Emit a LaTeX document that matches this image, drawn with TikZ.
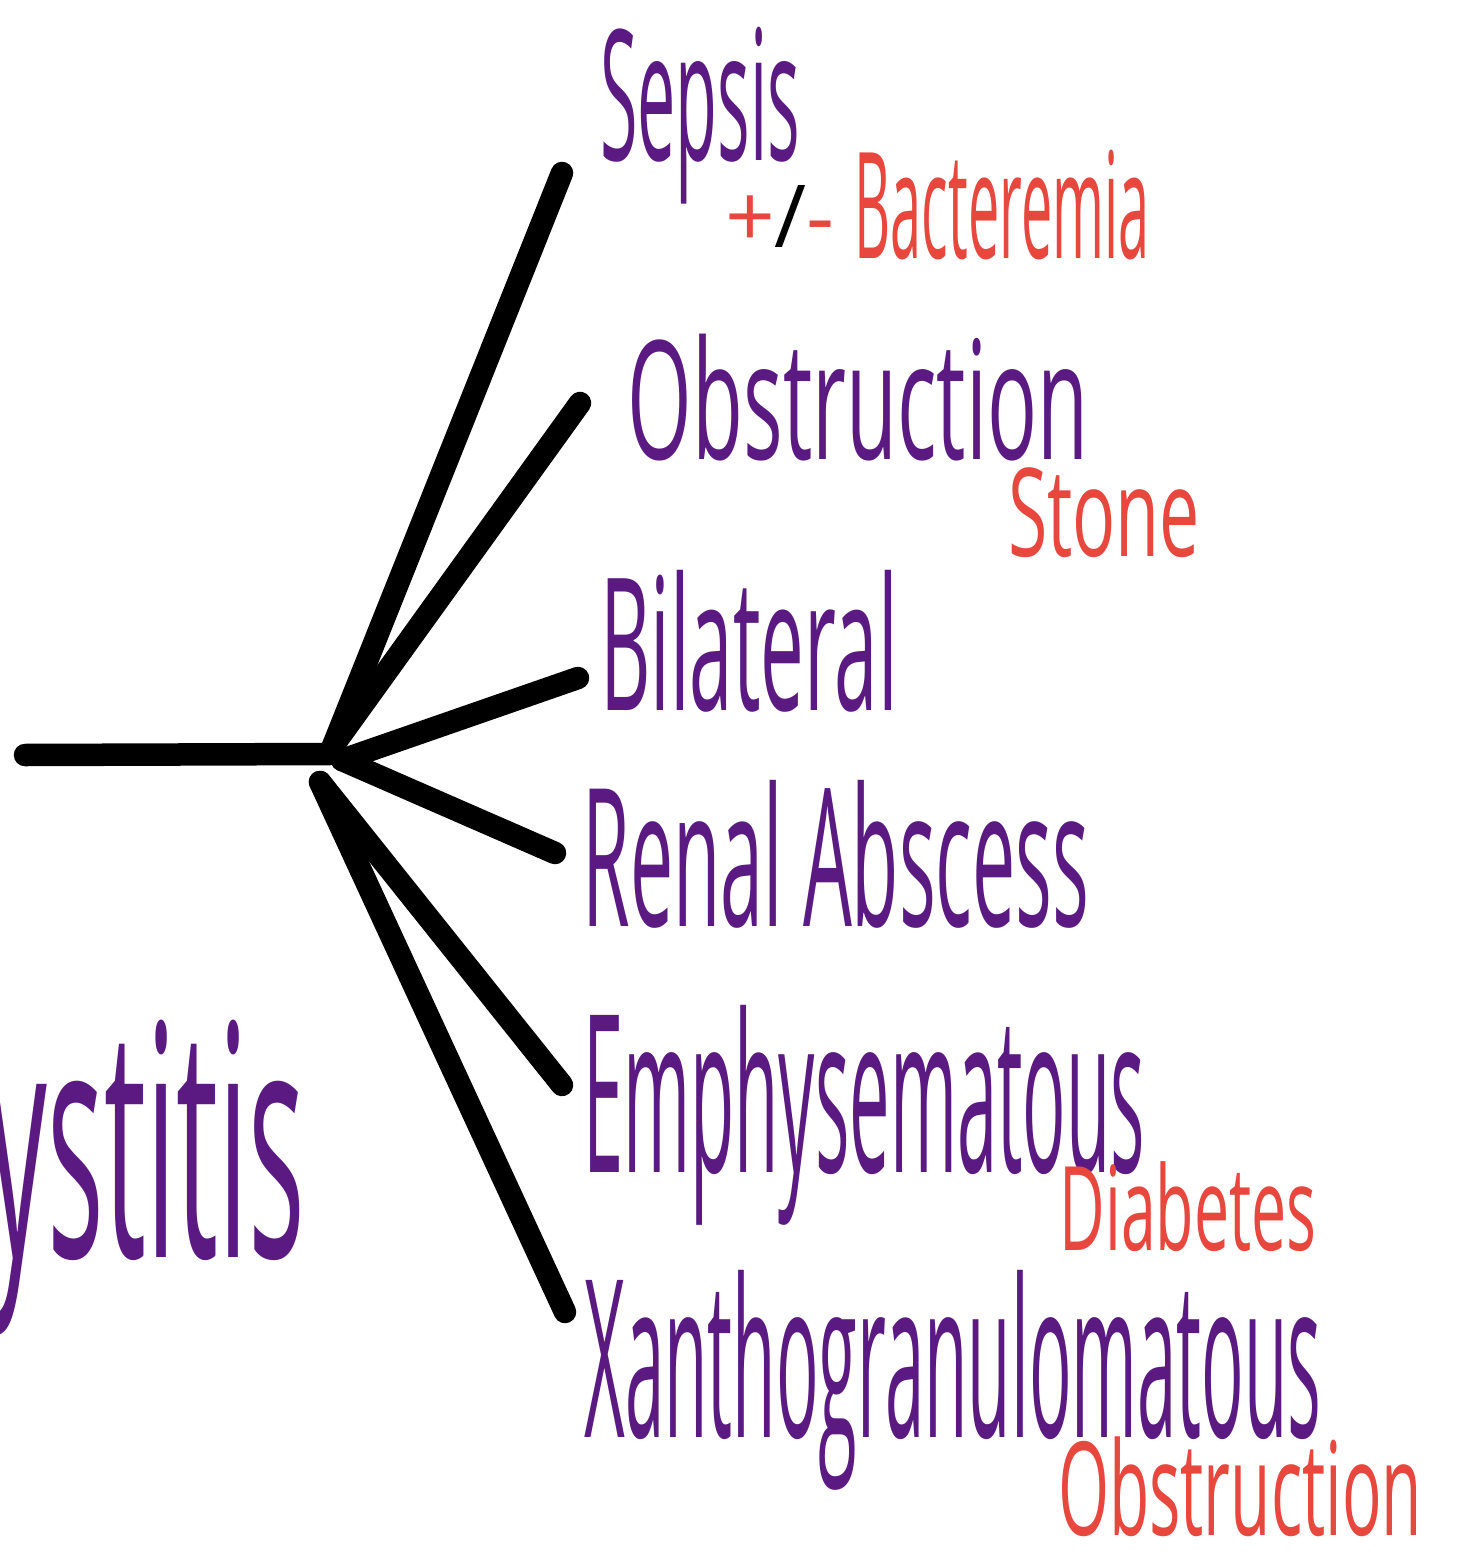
\documentclass[tikz,border=0pt]{standalone}
\usepackage{fontspec}
\setmainfont{Open Sans}
\usepackage{graphicx}

\definecolor{inkpurple}{HTML}{5B1A82}
\definecolor{inkred}{HTML}{E8473E}

% one drawing unit = one pixel of the sketch
\newlength\pxu
\setlength\pxu{0.01cm}
\newcommand\hw[3]{\resizebox*{#1\pxu}{#2\pxu}{#3}}

\begin{document}
\begin{tikzpicture}[
    x=0.01cm, y=-0.01cm,
    branch/.style = {line width=6.4pt, line cap=round},
    lbl/.style    = {inner sep=0pt, outer sep=0pt},
    main/.style   = {lbl, text=inkpurple},
    note/.style   = {lbl, text=inkred},
  ]

  % ---------- frame ----------
  \useasboundingbox (0,0) rectangle (1456,1558);
  \clip (0,0) rectangle (1456,1558);

  % ---------- stem and hub ----------
  \coordinate (stem)   at (25,755);
  \coordinate (hub)    at (330,754);
  \coordinate (hubUp)  at (333,746);
  \coordinate (hubMid) at (342,760);
  \coordinate (hubLow) at (320,782);

  % ---------- branch ends ----------
  \coordinate (endSepsis)   at (562,173);
  \coordinate (endObstr)    at (580,403);
  \coordinate (endBilat)    at (578,678);
  \coordinate (endAbscess)  at (555,853);
  \coordinate (endEmphys)   at (562,1085);
  \coordinate (endXantho)   at (565,1312);

  \draw[branch] (stem) -- (hub);
  \draw[branch] (hubUp) -- (endSepsis);
  \draw[branch] (hubUp) -- (endObstr);
  \draw[branch] (hubMid) -- (endBilat);
  \draw[branch] (hubMid) -- (endAbscess);
  \draw[branch] (hubLow) -- (endEmphys);
  \draw[branch] (hubLow) -- (endXantho);

  % ---------- main labels ----------
  \node[main] (sepsis)  at (700,116)  {\hw{200}{177}{Sepsis}};
  \node[main] (obstr)   at (858,398)  {\hw{460}{127}{Obstruction}};
  \node[main] (bilat)   at (749,641)  {\hw{298}{142}{Bilateral}};
  \node[main] (abscess) at (836,854)  {\hw{507}{148}{Renal Abscess}};
  \node[main] (emphys)  at (864,1115) {\hw{562}{220}{Emphysematous}};
  \node[main] (xantho)  at (953,1380) {\hw{737}{220}{Xanthogranulomatous}};

  % ---------- notes ----------
  \node[note] (plusminus) at (780,217)  {\hw{110}{62}{+{\color{black}/}-}};
  \node[note] (bact)      at (1002,205) {\hw{295}{110}{Bacteremia}};
  \node[note] (stone)     at (1104,513) {\hw{192}{90}{Stone}};
  \node[note] (diabetes)  at (1188,1207) {\hw{257}{90}{Diabetes}};
  \node[note] (obstrNote) at (1240,1487) {\hw{364}{100}{Obstruction}};

  % ---------- cut-off word at the left ----------
  \node[main, anchor=west] (cyst) at (-12,1178) {\hw{317}{315}{ystitis}};

\end{tikzpicture}
\end{document}
